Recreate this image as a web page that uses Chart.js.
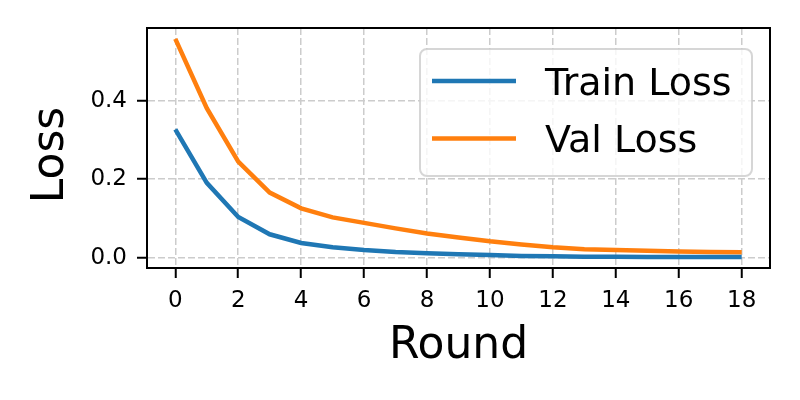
<!DOCTYPE html>
<html>
<head>
<meta charset="utf-8">
<script src="https://cdn.jsdelivr.net/npm/chart.js@4.4.1/dist/chart.umd.min.js"></script>
<style>
  html, body { margin: 0; padding: 0; background: #fff; }
  #wrap { width: 800px; height: 400px; }
</style>
</head>
<body>
<div id="wrap"><canvas id="lossChart" width="800" height="400"></canvas></div>
<script>
// data
const rounds = [0, 1, 2, 3, 4, 5, 6, 7, 8, 9, 10, 11, 12, 13, 14, 15, 16, 17, 18];
const trainLoss = [0.327, 0.191, 0.104, 0.060, 0.038, 0.027, 0.020, 0.015, 0.012, 0.009,
  0.007, 0.005, 0.004, 0.003, 0.003, 0.002, 0.002, 0.002, 0.002];
const valLoss = [0.557, 0.381, 0.245, 0.166, 0.126, 0.103, 0.089, 0.075, 0.062, 0.052,
  0.042, 0.034, 0.027, 0.022, 0.020, 0.018, 0.016, 0.015, 0.0145];
const xTicks = [0, 2, 4, 6, 8, 10, 12, 14, 16, 18];
const yTicks = [0.0, 0.2, 0.4];

const FONT = "'DejaVu Sans', sans-serif";

// matplotlib-like frame: all four spines
const boxPlugin = {
  id: "box",
  afterDatasetsDraw(chart) {
    const { ctx, chartArea: a } = chart;
    ctx.save();
    ctx.strokeStyle = "#000";
    ctx.lineWidth = 2;
    ctx.strokeRect(a.left, a.top, a.right - a.left, a.bottom - a.top);
    ctx.restore();
  },
};

// legend box in the upper right of the plot
const legendPlugin = {
  id: "innerLegend",
  afterDraw(chart) {
    const ctx = chart.ctx;
    const x0 = 420, y0 = 49, w = 332, h = 127, r = 7;
    ctx.save();
    ctx.beginPath();
    ctx.roundRect(x0, y0, w, h, r);
    ctx.fillStyle = "rgba(255,255,255,0.8)";
    ctx.fill();
    ctx.strokeStyle = "rgba(204,204,204,0.8)";
    ctx.lineWidth = 2;
    ctx.stroke();
    chart.data.datasets.forEach((ds, i) => {
      const y = 81 + i * 57.5;
      ctx.beginPath();
      ctx.moveTo(432, y);
      ctx.lineTo(516, y);
      ctx.strokeStyle = ds.borderColor;
      ctx.lineWidth = 4.5;
      ctx.stroke();
      ctx.fillStyle = "#000";
      ctx.font = "38px " + FONT;
      ctx.textBaseline = "alphabetic";
      ctx.textAlign = "left";
      ctx.fillText(ds.label, 545, y + 13.8);
    });
    ctx.restore();
  },
};

const toPoints = (vals) => vals.map((v, i) => ({ x: rounds[i], y: v }));

new Chart(document.getElementById("lossChart"), {
  type: "line",
  data: {
    datasets: [
      {
        label: "Train Loss",
        data: toPoints(trainLoss),
        borderColor: "#1f77b4",
        borderWidth: 4.5,
        pointRadius: 0,
        tension: 0,
      },
      {
        label: "Val Loss",
        data: toPoints(valLoss),
        borderColor: "#ff7f0e",
        borderWidth: 4.5,
        pointRadius: 0,
        tension: 0,
      },
    ],
  },
  options: {
    responsive: false,
    animation: false,
    events: [],
    layout: { padding: { top: 28, right: 30, left: 0, bottom: 0 } },
    plugins: { legend: { display: false }, tooltip: { enabled: false } },
    scales: {
      x: {
        type: "linear",
        min: -0.9,
        max: 18.9,
        afterBuildTicks: (s) => { s.ticks = xTicks.map((v) => ({ value: v })); },
        afterFit: (s) => { s.height = 132; },
        ticks: {
          color: "#000",
          font: { family: FONT, size: 23 },
          padding: 9,
          maxRotation: 0,
          callback: (v) => String(v),
        },
        grid: {
          color: "#cccccc",
          lineWidth: 1.5,
          tickColor: "#000",
          tickWidth: 2,
          tickLength: 10,
        },
        border: { color: "#000", width: 2, dash: [7, 3] },
        title: {
          display: true,
          text: "Round",
          color: "#000",
          font: { family: FONT, size: 44 },
          padding: { bottom: 27, top: 0 },
        },
      },
      y: {
        type: "linear",
        min: -0.0258,
        max: 0.5848,
        afterBuildTicks: (s) => { s.ticks = yTicks.map((v) => ({ value: v })); },
        afterFit: (s) => { s.width = 147; },
        ticks: {
          color: "#000",
          font: { family: FONT, size: 23 },
          padding: 10,
          callback: (v) => v.toFixed(1),
        },
        grid: {
          color: "#cccccc",
          lineWidth: 1.5,
          tickColor: "#000",
          tickWidth: 2,
          tickLength: 10,
        },
        border: { color: "#000", width: 2, dash: [7, 3] },
        title: {
          display: true,
          text: "Loss ",
          color: "#000",
          font: { family: FONT, size: 44 },
          padding: { top: 25, bottom: 0 },
        },
      },
    },
  },
  plugins: [boxPlugin, legendPlugin],
});
</script>
</body>
</html>
